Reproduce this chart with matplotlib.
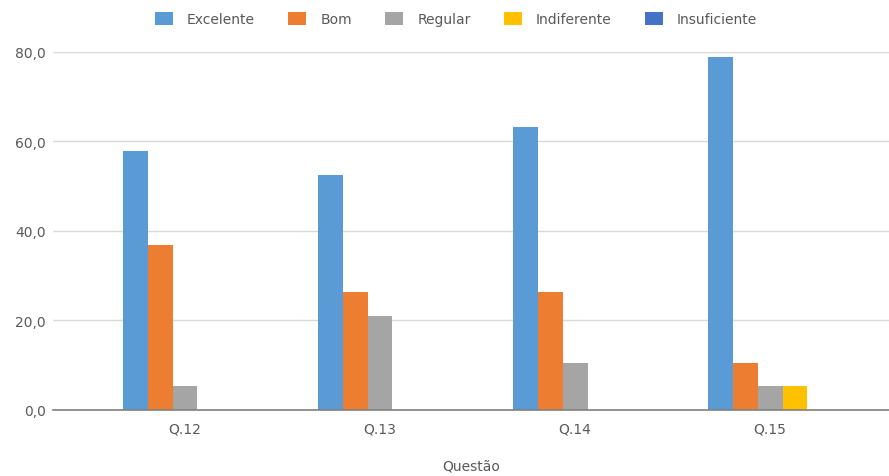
import numpy as np
import matplotlib.pyplot as plt

questoes = ["Q.12", "Q.13", "Q.14", "Q.15"]
series = ["Excelente", "Bom", "Regular", "Indiferente", "Insuficiente"]
excelente = [57.9, 52.6, 63.2, 78.9]
bom = [36.8, 26.3, 26.3, 10.5]
regular = [5.3, 21.1, 10.5, 5.3]
indiferente = [0.0, 0.0, 0.0, 5.3]
insuficiente = [0.0, 0.0, 0.0, 0.0]
cores = ["#5B9BD5", "#ED7D31", "#A5A5A5", "#FFC000", "#4472C4"]

plt.rcParams['font.family'] = ['DejaVu Sans']

fig = plt.figure(figsize=(8.89, 4.77), dpi=100)
ax = fig.add_axes([0.0596, 0.1384, 0.9404, 0.7505])

x = np.arange(len(questoes))
w = 0.128
valores = [excelente, bom, regular, indiferente, insuficiente]
for k, (nome, vals, cor) in enumerate(zip(series, valores, cores)):
    ax.bar(x + (k - 2) * w, vals, width=w, color=cor, label=nome, zorder=3)

ax.set_xlim(-0.677, 3.61)
ax.set_ylim(0, 80)
ax.set_yticks([0, 20, 40, 60, 80])
ax.set_yticklabels([f"{v:.1f}".replace(".", ",") for v in [0, 20, 40, 60, 80]])
ax.set_xticks(x)
ax.set_xticklabels(questoes)
ax.tick_params(length=0, labelsize=10, colors="#595959")
ax.tick_params(axis="y", pad=5)
ax.tick_params(axis="x", pad=8)
ax.grid(axis="y", color="#D9D9D9", linewidth=1, zorder=0)
for s in ["top", "right", "left"]:
    ax.spines[s].set_visible(False)
ax.spines["bottom"].set_color("#808080")
ax.spines["bottom"].set_linewidth(1.2)
ax.spines["bottom"].set_zorder(4)

ax.set_xlabel("Questão", fontsize=10, color="#595959", labelpad=17)

fig.legend(loc="center", bbox_to_anchor=(0.513, 0.958), ncol=5, frameon=False,
           fontsize=10, labelcolor="#595959", handlelength=1.3, handleheight=1.1,
           columnspacing=2.4, handletextpad=1.0)

fig.savefig("out.png", dpi=100)
